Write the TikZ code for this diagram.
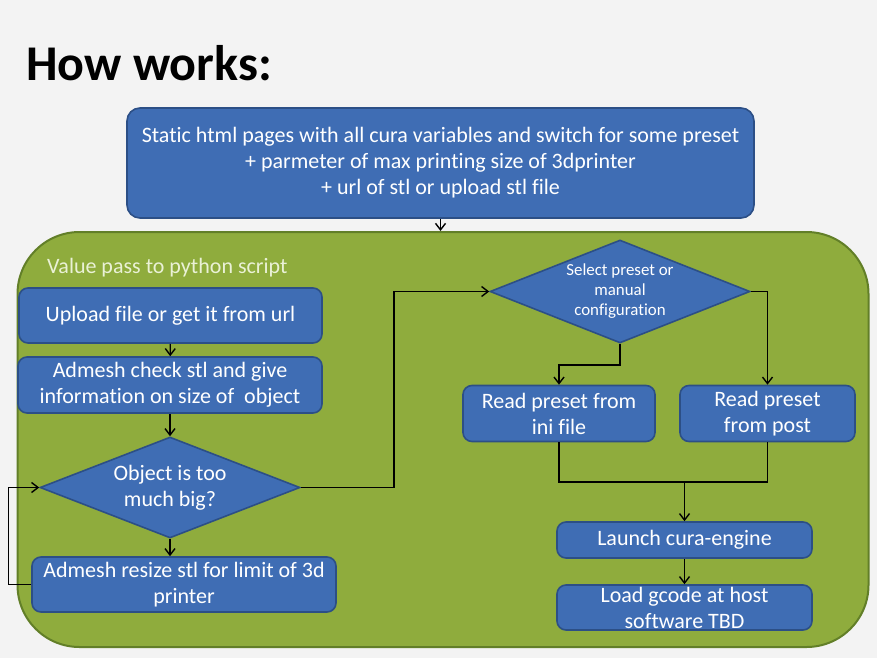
\documentclass[tikz,border=0pt]{standalone}
\usepackage{fontspec}
\setmainfont{Carlito}[Ligatures=NoCommon]
\usepackage{tikz}
\usetikzlibrary{arrows.meta, shapes.geometric}

\definecolor{pagebg}{HTML}{F3F3F3}
\definecolor{boxblue}{HTML}{3F6DB4}
\definecolor{boxline}{HTML}{2C4F86}
\definecolor{panelgreen}{HTML}{8FAC3D}
\definecolor{panelline}{HTML}{627F28}
\definecolor{paletext}{HTML}{EAF1D6}

\begin{document}
\begin{tikzpicture}[
    x=1pt, y=-1pt,
    font=\fontsize{22}{26}\selectfont,
    stepbox/.style={rectangle, rounded corners=9pt, draw=boxline, line width=1.6pt,
      fill=boxblue, text=white, align=center, inner sep=1pt},
    decision/.style={diamond, draw=boxline, line width=1.6pt, fill=boxblue,
      text=white, align=center, inner sep=0pt, aspect=2.55},
    panel/.style={rectangle, rounded corners=62pt, draw=panelline, line width=2pt,
      fill=panelgreen},
    arrow/.style={-{Straight Barb[length=6.5pt, width=10pt]}, line width=1.4pt},
    link/.style={line width=1.4pt},
  ]
  \fill[pagebg] (0,0) rectangle (877,658);
  \useasboundingbox (0,0) rectangle (877,658);

  \node[anchor=base west, inner sep=0pt, font=\fontsize{50}{54}\selectfont\bfseries] (title) at (26,81) {How works:};

  \node[stepbox, rounded corners=13pt, minimum width=627pt, minimum height=110pt] (cfg) at (440.5,163)
    {Static html pages with all cura variables and switch for some preset\\
     + parmeter of max printing size of 3dprinter\\
     + url of stl or upload stl file};

  \node[panel, minimum width=851pt, minimum height=415pt] (py) at (443,439.5) {};
  \node[anchor=west, inner sep=0pt, text=paletext] (pylabel) at (47,268) {Value pass to python script};

  % left column
  \node[stepbox, minimum width=303pt, minimum height=55pt] (upload) at (170.5,315.5) {Upload file or get it from url};
  \node[stepbox, minimum width=304pt, minimum height=56pt] (check) at (170,385) {Admesh check stl and give\\information on size of~~object};
  \node[decision, minimum width=260pt, minimum height=101pt] (big) at (170,487.5) {Object is too\\much big?};
  \node[stepbox, minimum width=304pt, minimum height=55pt] (resize) at (184,584.5) {Admesh resize stl for limit of 3d\\printer};

  % right column
  \node[decision, minimum width=260pt, minimum height=103pt, font=\fontsize{16.9}{20}\selectfont] (select) at (620,291.5)
    {Select preset or\\manual\\configuration};
  \node[stepbox, minimum width=192pt, minimum height=56pt] (ini) at (559,413.5) {Read preset from\\ini file};
  \node[stepbox, minimum width=175pt, minimum height=56pt] (post) at (767.5,413.5) {Read preset\\from post};
  \node[stepbox, minimum width=255pt, minimum height=36pt] (launch) at (684.5,540) {Launch cura-engine};
  \node[stepbox, minimum width=255pt, minimum height=45pt] (load) at (684.5,607.5) {Load gcode at host\\software TBD};

  \coordinate (turn) at (394,0);
  \coordinate (join) at (684.5,482);

  \draw[arrow] (cfg.south) -- (cfg.south |- py.north);
  \draw[arrow] (upload) -- (check);
  \draw[arrow] (check) -- (big);
  \draw[arrow] (big.south) -- (big.south |- resize.north);
  \draw[arrow] (resize.west) -- ++(-23,0) |- (big.west);
  \draw[arrow] (big.east) -| (turn |- select.west) -- (select.west);
  \draw[arrow] (select.south) -- ++(0,21) -| (ini.north);
  \draw[arrow] (select.east) -| (post.north);
  \draw[link] (ini.south) |- (join) -| (post.south);
  \draw[arrow] (join) -- (launch.north);
  \draw[arrow] (launch) -- (load);
\end{tikzpicture}
\end{document}
